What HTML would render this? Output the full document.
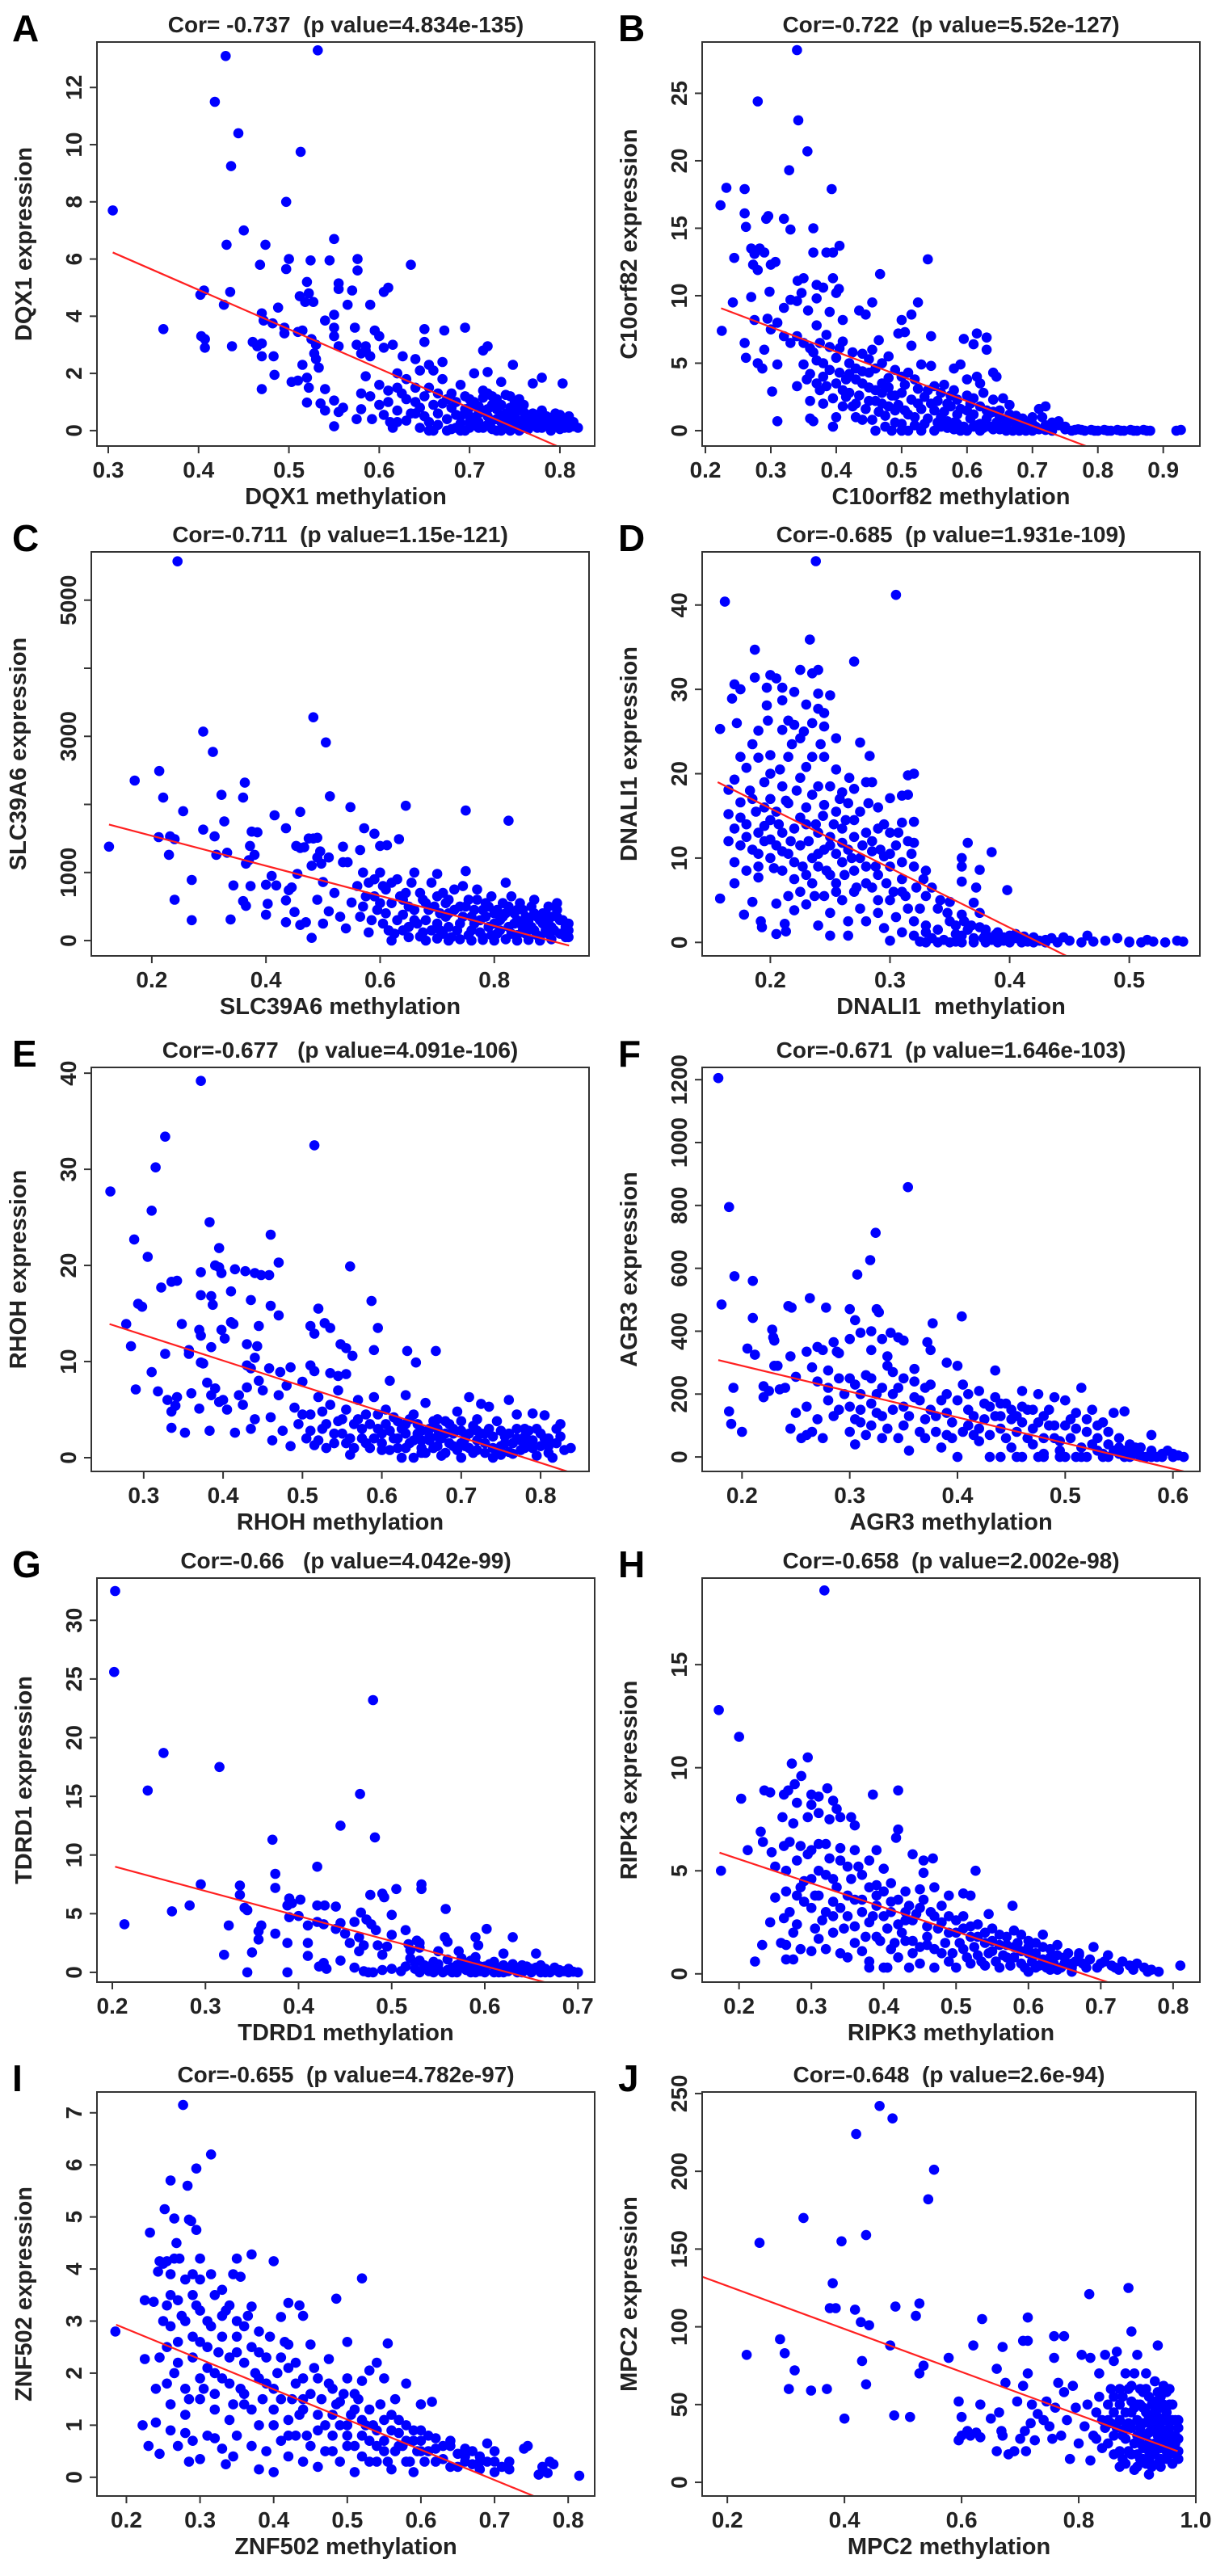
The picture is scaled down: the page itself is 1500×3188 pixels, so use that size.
<!DOCTYPE html>
<html><head><meta charset="utf-8"><title>Methylation vs expression scatter plots</title>
<style>
html,body{margin:0;padding:0;background:#fff;}
svg{display:block;font-family:"Liberation Sans",Arial,sans-serif;font-weight:bold;}
text{white-space:pre;}
</style></head>
<body>
<svg id="fig" xmlns="http://www.w3.org/2000/svg" width="1500" height="3188" viewBox="0 0 1500 3188"></svg>
<script>
// ---------- data ----------
const ptsA=[[0.305,7.7],[0.43,13.1],[0.532,13.3],[0.418,11.5],[0.444,10.4],[0.436,9.25],[0.513,9.75],[0.497,8.0],[0.45,7.0],[0.431,6.5],[0.474,6.5],[0.55,6.7],[0.468,5.8],[0.497,5.65],[0.5,6.0],[0.524,5.95],[0.545,5.95],[0.576,6.0],[0.576,5.6],[0.635,5.8],[0.52,5.2],[0.555,5.15],[0.555,4.95],[0.522,4.8],[0.512,4.7],[0.527,4.5],[0.518,4.5],[0.406,4.9],[0.402,4.75],[0.435,4.85],[0.428,4.4],[0.57,4.9],[0.605,4.85],[0.61,5.0],[0.59,4.4],[0.565,4.4],[0.488,4.3],[0.47,4.1],[0.472,3.85],[0.482,3.75],[0.55,4.05],[0.54,3.85],[0.361,3.55],[0.403,3.3],[0.407,3.2],[0.407,2.9],[0.437,2.95],[0.46,3.1],[0.465,2.95],[0.47,3.05],[0.47,2.6],[0.483,2.6],[0.495,3.6],[0.495,3.4],[0.51,3.45],[0.515,3.5],[0.525,3.2],[0.53,3.0],[0.55,3.6],[0.55,3.3],[0.555,2.95],[0.573,3.6],[0.575,3.0],[0.58,2.7],[0.585,2.8],[0.585,2.95],[0.59,2.6],[0.595,3.5],[0.6,3.3],[0.605,2.9],[0.615,3.0],[0.626,2.6],[0.64,2.5],[0.65,3.55],[0.65,3.1],[0.672,3.5],[0.695,3.6],[0.72,2.95],[0.715,2.8],[0.528,2.7],[0.53,2.5],[0.533,2.2],[0.52,1.85],[0.515,2.3],[0.484,1.95],[0.47,1.45],[0.503,1.7],[0.51,1.75],[0.522,1.5],[0.52,0.98],[0.54,1.45],[0.535,0.95],[0.54,0.7],[0.55,1.05],[0.55,0.15],[0.555,0.65],[0.56,0.8],[0.58,0.75],[0.575,0.4],[0.58,1.3],[0.585,1.9],[0.59,1.2],[0.592,0.4],[0.6,1.6],[0.605,0.55],[0.61,1.0],[0.612,0.3],[0.615,0.1],[0.62,2.0],[0.62,1.5],[0.62,0.7],[0.625,1.3],[0.63,0.35],[0.63,1.8],[0.64,1.0],[0.645,2.1],[0.645,0.1],[0.65,0.5],[0.655,1.5],[0.655,2.3],[0.66,2.1],[0.66,0.9],[0.665,0.2],[0.67,1.8],[0.67,2.4],[0.675,1.1],[0.675,0.4],[0.68,0.8],[0.685,0.1],[0.69,1.6],[0.69,0.5],[0.695,1.2],[0.7,0.3],[0.7,0.8],[0.705,2.0],[0.705,1.0],[0.71,0.1],[0.71,0.6],[0.715,1.4],[0.72,0.2],[0.72,2.05],[0.725,0.9],[0.73,0.4],[0.73,1.1],[0.735,0.0],[0.735,1.7],[0.74,0.6],[0.745,1.2],[0.748,2.3],[0.75,0.2],[0.755,0.8],[0.76,0.4],[0.765,0.05],[0.77,1.65],[0.77,0.6],[0.775,0.3],[0.78,1.85],[0.78,0.1],[0.785,0.5],[0.79,0.2],[0.795,0.6],[0.8,0.3],[0.803,1.65],[0.805,0.1],[0.81,0.3],[0.815,0.15],[0.82,0.1],[0.66,0.0],[0.68,0.05],[0.695,0.0],[0.71,0.3],[0.725,0.05],[0.74,0.1],[0.755,0.0],[0.77,0.2],[0.79,0.0],[0.64,0.6],[0.665,1.3],[0.685,1.0],[0.7,0.1],[0.715,0.7],[0.73,0.75],[0.745,0.35],[0.76,0.9],[0.675,0.0],[0.69,0.25],[0.705,0.45],[0.72,0.5],[0.735,0.3],[0.75,0.55],[0.765,0.35],[0.78,0.4],[0.795,0.15],[0.81,0.5],
[0.655,0.0],[0.665,0.6],[0.67,0.95],[0.68,1.3],[0.685,0.55],[0.69,0.0],[0.695,0.75],[0.7,1.1],[0.7,0.5],[0.705,0.2],[0.71,0.85],[0.715,1.15],[0.715,0.1],[0.72,0.75],[0.72,1.3],[0.725,0.35],[0.725,1.2],[0.73,0.0],[0.735,0.55],[0.735,0.9],[0.74,1.25],[0.74,0.3],[0.745,0.8],[0.745,0.0],[0.75,1.0],[0.75,0.4],[0.755,0.25],[0.755,1.1],[0.76,0.65],[0.76,0.1],[0.765,0.55],[0.77,0.35],[0.775,0.55],[0.775,0.1],[0.78,0.7],[0.785,0.25],[0.79,0.45],[0.795,0.35],[0.8,0.05],[0.8,0.55],[0.805,0.35],[0.81,0.1],[0.815,0.3],[0.6,0.9],[0.61,1.4],[0.62,0.3],[0.63,1.1],[0.635,0.6],[0.64,1.5],[0.645,0.8],[0.65,1.2],[0.655,0.3]];
const lineA=[0.305,6.23,0.82,-0.86];
const ptsB=[[0.34,28.2],[0.28,24.4],[0.342,23.0],[0.356,20.7],[0.328,19.3],[0.393,17.9],[0.223,16.7],[0.232,18.0],[0.26,17.9],[0.26,16.1],[0.262,15.1],[0.293,15.7],[0.296,15.9],[0.32,15.7],[0.33,14.9],[0.365,15.0],[0.244,12.8],[0.27,13.5],[0.275,13.1],[0.283,13.5],[0.29,13.2],[0.273,12.3],[0.28,11.9],[0.3,12.3],[0.307,12.5],[0.365,13.2],[0.385,13.2],[0.395,13.2],[0.405,13.7],[0.54,12.7],[0.467,11.6],[0.341,11.1],[0.35,11.3],[0.395,11.3],[0.27,9.9],[0.242,9.5],[0.298,10.3],[0.37,10.8],[0.38,10.6],[0.4,10.2],[0.404,10.5],[0.347,10.2],[0.33,9.7],[0.34,9.6],[0.37,9.8],[0.225,7.4],[0.26,6.5],[0.262,5.4],[0.28,5.0],[0.287,4.6],[0.29,6.0],[0.295,8.3],[0.275,8.2],[0.32,9.1],[0.3,7.5],[0.31,4.9],[0.302,2.9],[0.31,0.7],[0.34,3.3],[0.35,4.9],[0.355,3.8],[0.357,8.9],[0.36,6.1],[0.36,2.2],[0.36,0.9],[0.365,0.7],[0.37,7.8],[0.37,5.2],[0.375,3.0],[0.38,2.0],[0.385,7.1],[0.39,4.5],[0.39,8.8],[0.395,0.3],[0.4,3.5],[0.4,1.0],[0.405,6.1],[0.41,8.2],[0.415,2.5],[0.42,5.0],[0.425,1.8],[0.43,3.8],[0.435,8.9],[0.44,5.7],[0.44,0.8],[0.445,8.6],[0.45,4.3],[0.45,2.2],[0.455,9.5],[0.455,6.0],[0.46,0.0],[0.465,6.7],[0.47,3.5],[0.475,1.1],[0.48,5.5],[0.485,0.0],[0.49,2.6],[0.495,7.2],[0.5,4.0],[0.5,8.2],[0.505,1.5],[0.505,7.3],[0.51,0.0],[0.515,8.6],[0.515,6.3],[0.52,3.8],[0.525,9.5],[0.525,2.0],[0.53,4.9],[0.535,0.5],[0.54,3.0],[0.545,7.0],[0.545,4.8],[0.55,0.0],[0.555,2.2],[0.56,1.0],[0.565,3.4],[0.57,0.2],[0.575,2.6],[0.58,4.6],[0.585,1.2],[0.59,4.9],[0.595,6.8],[0.6,0.0],[0.6,3.8],[0.605,2.0],[0.61,6.4],[0.615,4.0],[0.615,7.2],[0.62,0.5],[0.625,2.8],[0.63,6.9],[0.63,6.0],[0.635,1.3],[0.64,4.3],[0.645,4.0],[0.65,0.1],[0.655,2.4],[0.66,0.8],[0.665,1.9],[0.67,0.0],[0.675,1.1],[0.68,0.3],[0.685,0.9],[0.69,0.0],[0.7,0.5],[0.71,1.6],[0.715,1.0],[0.72,1.8],[0.725,0.2],[0.73,0.6],[0.74,0.4],[0.75,0.1],[0.76,0.0],[0.77,0.1],[0.78,0.0],[0.79,0.05],[0.8,0.0],[0.81,0.05],[0.82,0.0],[0.83,0.05],[0.84,0.0],[0.85,0.05],[0.86,0.0],[0.87,0.05],[0.88,0.0],[0.92,0.0],[0.927,0.05],[0.58,0.1],[0.59,0.0],[0.62,0.0],[0.64,0.1],[0.66,0.0],[0.68,0.0],[0.7,0.0],[0.72,0.05],[0.73,0.0],[0.55,1.5],[0.57,2.0],[0.58,3.0],[0.6,1.5],[0.61,2.4],[0.62,3.5],[0.63,1.5],[0.64,2.3],[0.65,1.5],[0.48,3.2],[0.49,1.5],[0.47,2.0],[0.46,3.0],[0.44,3.5],[0.43,2.0],[0.42,4.2],[0.41,3.0],[0.38,4.0],[0.37,3.5],[0.35,6.5],[0.34,7.0],[0.33,6.5],[0.32,7.0],[0.31,8.0],[0.53,0.0],[0.52,1.0],[0.5,0.5],[0.56,0.3],[0.585,0.5],[0.61,0.3],
[0.36,4.2],[0.365,5.8],[0.375,6.5],[0.38,5.0],[0.385,3.3],[0.39,6.2],[0.395,2.4],[0.4,5.4],[0.405,4.3],[0.41,1.8],[0.41,6.6],[0.415,3.8],[0.42,2.8],[0.425,5.8],[0.43,4.6],[0.43,1.0],[0.435,2.6],[0.44,4.4],[0.445,1.6],[0.45,3.2],[0.45,5.3],[0.455,0.8],[0.46,2.2],[0.46,4.6],[0.465,1.4],[0.47,2.8],[0.47,5.0],[0.475,0.3],[0.48,1.8],[0.48,3.9],[0.485,2.6],[0.49,0.6],[0.49,4.5],[0.495,1.9],[0.5,2.8],[0.5,0.0],[0.505,3.4],[0.51,1.2],[0.51,4.3],[0.515,2.3],[0.52,0.4],[0.525,3.1],[0.53,1.6],[0.535,2.5],[0.54,0.9],[0.545,2.0],[0.55,3.3],[0.555,0.6],[0.56,2.8],[0.565,1.4],[0.57,0.7],[0.575,1.8],[0.58,0.6],[0.585,2.3],[0.59,1.6],[0.595,0.3],[0.6,2.6],[0.605,0.9],[0.61,1.2],[0.615,0.4],[0.62,1.8],[0.625,0.2],[0.63,0.9],[0.635,0.3],[0.64,1.4],[0.645,0.6],[0.65,1.0],[0.655,0.2],[0.66,0.5],[0.665,1.2],[0.67,0.7],[0.675,0.3],[0.68,0.9],[0.69,0.6],[0.695,0.2],[0.7,1.0],[0.705,0.3],[0.71,0.1],[0.72,0.4],[0.73,0.2],[0.74,0.7],[0.75,0.3],[0.765,0.05],[0.775,0.05],[0.795,0.0],[0.815,0.0],[0.835,0.0],[0.855,0.0],[0.875,0.0]];
const lineB=[0.224,9.07,0.927,-3.8];
const ptsC=[[0.245,5570],[0.483,3280],[0.29,3070],[0.505,2910],[0.307,2770],[0.213,2490],[0.17,2350],[0.363,2320],[0.22,2100],[0.322,2140],[0.36,2100],[0.512,2120],[0.255,1900],[0.46,1890],[0.415,1840],[0.548,1960],[0.645,1980],[0.75,1910],[0.825,1760],[0.327,1750],[0.29,1630],[0.31,1530],[0.435,1650],[0.375,1600],[0.385,1590],[0.212,1520],[0.232,1530],[0.24,1490],[0.572,1650],[0.59,1570],[0.633,1490],[0.475,1500],[0.483,1500],[0.49,1510],[0.372,1390],[0.453,1390],[0.46,1360],[0.467,1370],[0.495,1310],[0.51,1220],[0.535,1380],[0.565,1330],[0.6,1390],[0.612,1400],[0.125,1380],[0.23,1260],[0.313,1260],[0.332,1290],[0.38,1260],[0.365,1130],[0.37,1180],[0.49,1220],[0.497,1130],[0.535,1150],[0.543,1150],[0.48,1100],[0.455,980],[0.41,950],[0.27,890],[0.343,810],[0.373,800],[0.4,820],[0.418,810],[0.44,740],[0.445,780],[0.24,600],[0.27,300],[0.338,310],[0.36,580],[0.365,510],[0.403,540],[0.4,380],[0.435,270],[0.435,590],[0.45,420],[0.46,230],[0.47,270],[0.48,40],[0.49,600],[0.5,860],[0.5,250],[0.51,430],[0.52,700],[0.53,350],[0.54,180],[0.55,560],[0.56,800],[0.565,350],[0.57,1000],[0.575,650],[0.58,120],[0.59,900],[0.595,450],[0.6,1000],[0.605,250],[0.61,750],[0.62,550],[0.625,100],[0.63,900],[0.64,380],[0.645,700],[0.65,200],[0.66,450],[0.66,1000],[0.67,60],[0.675,600],[0.68,300],[0.69,850],[0.695,500],[0.7,980],[0.705,150],[0.71,700],[0.715,350],[0.72,600],[0.725,50],[0.73,450],[0.74,250],[0.745,800],[0.75,1020],[0.755,600],[0.76,150],[0.765,450],[0.77,750],[0.775,300],[0.78,50],[0.785,550],[0.79,200],[0.795,650],[0.8,400],[0.805,100],[0.81,300],[0.815,550],[0.82,850],[0.825,200],[0.83,650],[0.835,400],[0.84,80],[0.845,250],[0.85,450],[0.855,100],[0.86,300],[0.865,500],[0.87,150],[0.875,350],[0.88,50],[0.885,250],[0.89,400],[0.895,100],[0.9,200],[0.91,550],[0.915,300],[0.92,100],[0.925,200],[0.93,50],[0.93,250],[0.62,0],[0.65,50],[0.68,0],[0.7,30],[0.72,0],[0.74,20],[0.76,0],[0.78,10],[0.8,0],[0.82,20],[0.84,0],[0.86,10],[0.88,0],[0.9,20],[0.64,600],[0.66,300],[0.68,550],[0.7,250],[0.72,400],[0.74,500],[0.76,350],[0.78,450],[0.8,250],[0.82,400],[0.84,300],[0.86,200],[0.88,300],[0.9,350],
[0.57,500],[0.58,850],[0.585,300],[0.59,650],[0.6,550],[0.605,800],[0.61,400],[0.615,150],[0.62,850],[0.63,300],[0.635,650],[0.64,150],[0.65,500],[0.655,850],[0.665,250],[0.67,700],[0.675,120],[0.685,450],[0.69,150],[0.7,650],[0.705,400],[0.71,100],[0.715,550],[0.72,200],[0.73,750],[0.735,150],[0.745,350],[0.75,500],[0.755,80],[0.765,250],[0.77,600],[0.775,120],[0.785,350],[0.79,500],[0.795,80],[0.805,450],[0.81,150],[0.815,350],[0.825,500],[0.83,100],[0.835,250],[0.845,550],[0.85,150],[0.855,350],[0.865,200],[0.87,400],[0.875,80],[0.885,400],[0.89,150],[0.895,300],[0.905,150],[0.91,350],[0.915,100],[0.92,300],[0.925,50],[0.93,150],[0.91,450],[0.895,500],[0.87,600],[0.84,450]];
const lineC=[0.125,1704,0.931,-73];
const ptsD=[[0.238,45.2],[0.305,41.2],[0.162,40.4],[0.233,35.9],[0.187,34.7],[0.27,33.3],[0.225,32.3],[0.24,32.3],[0.235,31.9],[0.2,31.7],[0.205,31.3],[0.187,31.4],[0.17,30.6],[0.175,30.0],[0.197,30.2],[0.21,30.2],[0.22,29.7],[0.24,29.5],[0.25,29.3],[0.168,28.9],[0.21,28.7],[0.197,28.1],[0.23,28.2],[0.24,27.7],[0.245,27.2],[0.158,25.3],[0.172,26.0],[0.198,26.3],[0.215,26.3],[0.22,25.8],[0.21,25.2],[0.228,25.0],[0.235,26.0],[0.245,25.6],[0.255,24.2],[0.275,23.7],[0.19,25.1],[0.185,23.5],[0.225,24.2],[0.283,22.1],[0.175,22.0],[0.19,21.9],[0.2,22.2],[0.215,22.0],[0.235,22.0],[0.245,22.0],[0.255,20.5],[0.27,18.2],[0.28,19.0],[0.285,19.0],[0.315,19.8],[0.32,20.0],[0.17,19.3],[0.18,20.7],[0.2,20.0],[0.21,18.5],[0.225,19.5],[0.24,18.5],[0.26,17.8],[0.3,17.1],[0.31,17.4],[0.315,17.5],[0.29,16.0],[0.165,18.1],[0.175,16.6],[0.185,17.0],[0.195,16.0],[0.205,15.5],[0.215,16.5],[0.23,16.0],[0.245,16.3],[0.255,15.5],[0.265,16.5],[0.27,14.5],[0.165,15.2],[0.17,13.5],[0.18,14.0],[0.19,13.0],[0.2,14.5],[0.21,13.0],[0.22,13.5],[0.23,14.0],[0.24,13.0],[0.25,12.5],[0.26,13.5],[0.28,13.0],[0.29,13.5],[0.3,13.0],[0.31,14.2],[0.32,14.3],[0.165,12.0],[0.175,11.5],[0.185,11.0],[0.195,12.0],[0.205,11.5],[0.215,10.5],[0.225,11.5],[0.235,10.0],[0.245,11.0],[0.255,10.5],[0.265,11.0],[0.275,10.0],[0.285,10.8],[0.295,10.2],[0.305,11.5],[0.315,12.0],[0.32,11.8],[0.17,9.5],[0.18,8.5],[0.19,9.0],[0.2,10.0],[0.21,8.5],[0.22,9.5],[0.23,8.0],[0.24,9.0],[0.25,8.0],[0.26,9.5],[0.27,8.5],[0.28,9.0],[0.29,8.0],[0.3,9.0],[0.31,7.5],[0.32,9.0],[0.33,8.5],[0.36,10.0],[0.365,11.8],[0.385,10.7],[0.375,8.6],[0.36,9.0],[0.398,6.2],[0.36,7.2],[0.372,6.5],[0.17,7.0],[0.158,5.2],[0.178,3.3],[0.185,4.8],[0.19,7.7],[0.192,2.5],[0.193,1.8],[0.205,4.6],[0.205,1.0],[0.213,1.3],[0.212,2.2],[0.215,5.5],[0.22,3.8],[0.225,6.0],[0.23,4.5],[0.235,7.0],[0.24,2.0],[0.245,5.5],[0.25,3.5],[0.25,0.8],[0.255,7.0],[0.26,5.0],[0.265,0.8],[0.265,2.5],[0.27,6.0],[0.275,4.0],[0.28,2.5],[0.285,6.5],[0.29,3.5],[0.295,1.7],[0.3,5.0],[0.3,0.2],[0.305,3.0],[0.31,6.0],[0.31,1.2],[0.315,4.0],[0.32,0.8],[0.32,2.5],[0.325,0.1],[0.33,5.5],[0.33,2.0],[0.335,0.5],[0.34,4.0],[0.34,1.5],[0.345,0.3],[0.35,2.5],[0.35,4.8],[0.355,1.0],[0.355,0.1],[0.36,3.3],[0.365,1.5],[0.37,4.7],[0.37,0.5],[0.375,3.5],[0.375,1.8],[0.38,1.0],[0.385,0.3],[0.39,1.2],[0.395,0.6],[0.4,0.2],[0.405,1.0],[0.41,0.4],[0.415,0.1],[0.42,0.6],[0.43,0.3],[0.44,0.0],[0.445,0.6],[0.45,0.2],[0.46,0.0],[0.465,0.8],[0.47,0.1],[0.48,0.2],[0.49,0.5],[0.5,0.1],[0.5,0.0],[0.51,0.0],[0.515,0.3],[0.52,0.1],[0.53,0.0],[0.54,0.2],[0.545,0.1],[0.33,0.0],[0.34,0.0],[0.35,0.0],[0.36,0.0],[0.37,0.0],[0.38,0.0],[0.39,0.0],[0.4,0.0],[0.41,0.0],[0.42,0.0],[0.43,0.0],[0.36,0.8],[0.38,1.5],[0.4,0.8],[0.33,1.2],
[0.175,14.8],[0.18,12.5],[0.183,18.0],[0.188,15.5],[0.19,10.5],[0.195,19.0],[0.195,13.8],[0.2,12.2],[0.2,17.0],[0.203,8.8],[0.207,14.0],[0.208,20.5],[0.21,10.8],[0.213,16.8],[0.217,12.0],[0.218,23.5],[0.22,7.5],[0.222,18.0],[0.225,14.8],[0.227,9.0],[0.23,20.8],[0.232,12.0],[0.235,17.5],[0.237,5.5],[0.238,14.0],[0.24,10.5],[0.242,23.5],[0.244,15.0],[0.247,8.5],[0.25,18.5],[0.25,11.5],[0.253,14.0],[0.255,6.0],[0.258,17.0],[0.26,11.8],[0.262,8.0],[0.263,14.5],[0.266,19.5],[0.268,10.0],[0.27,12.5],[0.272,6.5],[0.275,15.5],[0.277,11.5],[0.28,7.0],[0.282,16.5],[0.285,12.0],[0.288,9.0],[0.29,5.0],[0.292,11.0],[0.295,14.0],[0.297,7.0],[0.3,10.5],[0.303,6.0],[0.307,13.0],[0.31,9.5],[0.313,5.5],[0.318,10.5],[0.322,6.5],[0.325,4.0],[0.328,7.5],[0.335,6.5],[0.342,5.0],[0.348,3.5],[0.355,2.0],[0.362,2.5],[0.368,2.0],[0.378,0.5],[0.388,0.9],[0.395,0.2],[0.405,0.5],[0.412,0.7],[0.425,0.2],[0.435,0.5]];
const lineD=[0.156,19.0,0.545,-8.5];
const ptsE=[[0.372,39.2],[0.327,33.4],[0.515,32.5],[0.315,30.2],[0.258,27.7],[0.31,25.7],[0.383,24.5],[0.46,23.2],[0.288,22.7],[0.395,21.8],[0.305,20.9],[0.47,20.3],[0.372,19.3],[0.39,20.0],[0.395,19.8],[0.398,19.2],[0.415,19.6],[0.428,19.4],[0.44,19.2],[0.448,19.0],[0.458,19.0],[0.56,19.9],[0.322,17.7],[0.335,18.3],[0.342,18.4],[0.372,16.9],[0.385,16.8],[0.387,15.9],[0.41,17.3],[0.435,16.4],[0.46,15.8],[0.587,16.3],[0.293,16.0],[0.298,15.7],[0.47,14.8],[0.52,15.5],[0.41,14.1],[0.413,13.9],[0.445,13.7],[0.51,13.7],[0.515,12.9],[0.528,14.0],[0.535,13.5],[0.595,13.5],[0.278,13.9],[0.348,13.9],[0.37,13.3],[0.372,12.7],[0.398,13.3],[0.402,12.4],[0.43,11.8],[0.443,11.6],[0.548,11.8],[0.555,11.4],[0.59,11.2],[0.632,11.1],[0.668,11.1],[0.643,9.9],[0.563,10.6],[0.284,11.6],[0.327,10.8],[0.357,11.2],[0.357,10.8],[0.385,11.5],[0.372,9.9],[0.375,9.8],[0.44,10.4],[0.43,9.6],[0.435,9.3],[0.458,9.3],[0.472,8.9],[0.485,9.4],[0.51,9.6],[0.515,9.0],[0.535,8.8],[0.545,8.5],[0.555,8.7],[0.31,8.9],[0.29,7.1],[0.318,6.9],[0.33,6.0],[0.335,4.8],[0.342,6.3],[0.34,5.4],[0.335,3.1],[0.352,2.6],[0.36,6.7],[0.37,5.1],[0.383,2.8],[0.38,7.8],[0.385,6.5],[0.39,7.2],[0.395,5.8],[0.4,6.0],[0.405,5.0],[0.415,2.6],[0.42,6.5],[0.425,5.5],[0.43,7.3],[0.435,3.0],[0.44,4.0],[0.445,8.0],[0.45,7.0],[0.46,4.2],[0.462,1.8],[0.47,6.5],[0.475,2.8],[0.48,7.5],[0.485,1.2],[0.49,5.2],[0.495,3.5],[0.5,7.9],[0.505,2.0],[0.51,4.5],[0.515,1.3],[0.52,6.3],[0.525,3.0],[0.53,1.0],[0.535,5.5],[0.54,2.5],[0.545,7.0],[0.55,4.0],[0.555,1.5],[0.56,0.3],[0.565,3.5],[0.57,6.0],[0.575,2.0],[0.58,4.5],[0.585,1.0],[0.59,6.3],[0.595,3.0],[0.6,0.8],[0.605,5.0],[0.61,8.0],[0.615,2.0],[0.62,3.8],[0.625,0.0],[0.63,6.5],[0.635,1.5],[0.64,4.5],[0.645,2.5],[0.65,0.5],[0.655,5.7],[0.66,3.0],[0.665,1.0],[0.67,4.0],[0.675,0.2],[0.68,2.5],[0.685,3.5],[0.69,1.2],[0.695,4.8],[0.7,0.0],[0.705,2.0],[0.71,6.3],[0.715,3.3],[0.72,0.8],[0.725,5.6],[0.73,2.5],[0.735,5.3],[0.74,1.0],[0.745,3.8],[0.75,0.3],[0.755,2.2],[0.76,6.0],[0.765,1.5],[0.77,4.5],[0.775,0.8],[0.78,3.0],[0.785,1.8],[0.79,4.6],[0.795,0.2],[0.8,2.5],[0.805,4.4],[0.81,1.2],[0.815,0.0],[0.82,3.0],[0.825,3.5],[0.83,0.8],[0.838,1.0],[0.6,2.5],[0.62,1.0],[0.64,0.0],[0.66,1.8],[0.68,0.5],[0.7,1.5],[0.72,2.8],[0.74,0.0],[0.76,0.6],[0.78,2.2],[0.63,3.5],[0.65,1.8],[0.67,2.2],[0.69,3.0],[0.71,1.0],[0.73,0.5],[0.75,1.2],[0.77,2.0],[0.79,1.0],[0.81,2.0],
[0.5,4.5],[0.51,2.8],[0.52,1.8],[0.525,4.8],[0.53,3.5],[0.54,1.5],[0.545,3.8],[0.55,2.5],[0.555,5.0],[0.56,2.0],[0.565,1.0],[0.57,4.0],[0.575,3.0],[0.58,1.5],[0.585,3.5],[0.59,2.0],[0.595,4.5],[0.6,1.5],[0.605,3.5],[0.61,0.8],[0.61,2.8],[0.615,4.2],[0.62,2.0],[0.625,3.0],[0.63,1.0],[0.63,2.5],[0.635,4.0],[0.64,1.8],[0.645,3.5],[0.65,1.0],[0.65,2.8],[0.655,0.5],[0.66,2.2],[0.665,3.8],[0.67,1.2],[0.67,3.0],[0.675,2.0],[0.68,3.8],[0.685,1.5],[0.69,2.5],[0.695,0.8],[0.7,2.8],[0.7,3.8],[0.705,1.2],[0.71,2.5],[0.715,0.5],[0.72,1.8],[0.72,4.0],[0.725,2.5],[0.73,1.5],[0.735,3.0],[0.74,2.2],[0.745,0.8],[0.75,2.8],[0.755,1.5],[0.76,2.5],[0.765,0.4],[0.77,3.0],[0.775,1.8],[0.78,1.0],[0.785,2.8],[0.79,1.8],[0.795,3.0],[0.8,1.2],[0.805,2.0],[0.81,0.5],[0.82,1.5],[0.825,2.2]];
const lineE=[0.257,13.9,0.838,-1.55];
const ptsF=[[0.178,1205],[0.354,858],[0.188,795],[0.324,713],[0.319,626],[0.193,575],[0.307,580],[0.21,560],[0.181,485],[0.263,505],[0.278,475],[0.243,480],[0.246,475],[0.3,470],[0.325,470],[0.327,460],[0.404,447],[0.21,442],[0.305,435],[0.377,425],[0.228,405],[0.229,380],[0.23,370],[0.32,400],[0.31,395],[0.338,395],[0.345,380],[0.35,370],[0.33,375],[0.285,365],[0.3,375],[0.372,365],[0.205,345],[0.212,325],[0.26,335],[0.27,350],[0.275,340],[0.288,335],[0.29,330],[0.245,320],[0.375,340],[0.32,340],[0.335,320],[0.23,290],[0.233,290],[0.39,300],[0.4,290],[0.435,275],[0.265,285],[0.28,275],[0.25,255],[0.192,220],[0.22,225],[0.225,210],[0.235,215],[0.24,220],[0.22,190],[0.25,140],[0.245,90],[0.188,145],[0.19,105],[0.2,80],[0.255,60],[0.26,70],[0.265,80],[0.27,240],[0.275,60],[0.28,180],[0.285,130],[0.29,250],[0.295,200],[0.3,80],[0.305,40],[0.305,230],[0.31,150],[0.315,260],[0.32,100],[0.325,200],[0.33,60],[0.335,290],[0.34,150],[0.345,220],[0.35,100],[0.355,20],[0.36,280],[0.365,180],[0.37,60],[0.375,230],[0.38,130],[0.385,30],[0.39,200],[0.395,110],[0.4,0],[0.405,230],[0.41,150],[0.415,70],[0.42,210],[0.425,120],[0.43,0],[0.435,190],[0.44,90],[0.445,170],[0.45,30],[0.455,130],[0.46,210],[0.465,60],[0.47,150],[0.475,200],[0.48,10],[0.485,100],[0.49,190],[0.495,50],[0.5,180],[0.505,120],[0.51,0],[0.515,220],[0.52,80],[0.525,150],[0.53,20],[0.535,110],[0.54,40],[0.545,140],[0.55,10],[0.555,145],[0.56,40],[0.565,10],[0.57,30],[0.575,0],[0.58,70],[0.585,0],[0.59,10],[0.595,20],[0.6,0],[0.605,5],[0.61,0],[0.44,0],[0.46,0],[0.48,0],[0.5,0],[0.52,0],[0.54,0],[0.56,0],[0.58,0],[0.6,10],[0.43,160],[0.45,120],[0.47,90],[0.49,60],[0.51,90],[0.53,60],[0.55,30],[0.41,100],[0.39,70],[0.37,120],[0.35,160],[0.33,130],[0.31,110],[0.29,150],[0.27,120],[0.36,240],[0.34,270],[0.32,170],[0.3,160],[0.28,220],[0.26,160],[0.42,50],[0.44,130],[0.46,160],[0.48,130],
[0.3,250],[0.305,120],[0.31,200],[0.315,70],[0.32,250],[0.325,140],[0.33,220],[0.335,90],[0.34,200],[0.345,60],[0.35,250],[0.355,130],[0.36,190],[0.365,80],[0.37,220],[0.375,150],[0.38,80],[0.385,180],[0.39,140],[0.395,60],[0.4,180],[0.405,80],[0.41,200],[0.415,130],[0.42,90],[0.425,170],[0.43,70],[0.435,130],[0.44,170],[0.445,60],[0.45,150],[0.455,80],[0.46,110],[0.465,150],[0.47,40],[0.475,110],[0.48,60],[0.485,150],[0.49,100],[0.495,20],[0.5,100],[0.505,60],[0.51,140],[0.515,30],[0.52,120],[0.525,40],[0.53,100],[0.535,10],[0.54,80],[0.545,20],[0.55,60],[0.555,20],[0.56,10],[0.565,30],[0.57,5],[0.58,20],[0.59,0],[0.6,5],[0.455,0],[0.475,0],[0.495,0],[0.515,0],[0.535,0],[0.555,0],[0.57,0]];
const lineF=[0.178,308,0.61,-46];
const ptsG=[[0.203,32.5],[0.202,25.6],[0.48,23.2],[0.255,18.7],[0.315,17.5],[0.238,15.5],[0.466,15.2],[0.445,12.5],[0.482,11.5],[0.372,11.3],[0.42,9.0],[0.375,8.4],[0.295,7.5],[0.337,7.4],[0.375,7.2],[0.532,7.5],[0.532,7.1],[0.505,7.1],[0.477,6.6],[0.49,6.7],[0.492,6.4],[0.337,6.6],[0.39,6.3],[0.393,5.9],[0.388,5.7],[0.402,6.2],[0.42,5.7],[0.428,5.7],[0.44,5.6],[0.283,5.7],[0.264,5.2],[0.342,5.5],[0.345,5.3],[0.558,5.4],[0.467,5.1],[0.5,4.9],[0.213,4.1],[0.39,4.7],[0.4,4.8],[0.325,4.0],[0.36,4.0],[0.357,3.5],[0.357,2.8],[0.375,3.3],[0.388,2.5],[0.41,4.0],[0.42,4.3],[0.427,4.1],[0.44,3.7],[0.445,4.2],[0.45,3.3],[0.455,2.5],[0.46,4.3],[0.465,3.0],[0.47,2.3],[0.473,4.5],[0.478,4.1],[0.483,3.6],[0.485,2.3],[0.49,1.5],[0.495,2.2],[0.5,3.2],[0.515,3.6],[0.518,2.4],[0.52,1.9],[0.527,2.7],[0.53,2.1],[0.53,1.0],[0.557,3.0],[0.56,2.6],[0.59,3.0],[0.593,2.3],[0.602,3.7],[0.63,3.0],[0.572,1.8],[0.62,1.6],[0.655,1.6],[0.32,1.5],[0.35,1.7],[0.41,1.4],[0.41,2.5],[0.345,0.0],[0.388,0.0],[0.422,0.5],[0.427,0.8],[0.43,0.3],[0.445,1.0],[0.46,0.4],[0.465,1.8],[0.47,0.1],[0.475,0.0],[0.48,0.0],[0.49,0.2],[0.5,0.3],[0.51,0.1],[0.515,0.5],[0.52,1.2],[0.525,0.3],[0.53,0.0],[0.535,0.6],[0.54,0.1],[0.545,0.9],[0.55,0.3],[0.555,0.0],[0.56,1.1],[0.565,0.4],[0.57,0.0],[0.575,0.8],[0.58,0.2],[0.585,1.0],[0.59,0.0],[0.595,0.5],[0.6,0.1],[0.605,0.7],[0.61,0.0],[0.615,0.3],[0.62,0.6],[0.625,0.1],[0.63,0.4],[0.635,0.0],[0.64,0.6],[0.645,0.2],[0.65,0.0],[0.655,0.4],[0.66,0.1],[0.665,0.3],[0.67,0.0],[0.675,0.2],[0.68,0.0],[0.685,0.1],[0.69,0.0],[0.695,0.05],[0.7,0.0],[0.545,0.0],[0.565,0.0],[0.585,0.0],[0.6,0.0],[0.62,0.0],[0.64,0.0],[0.66,0.0],[0.55,1.8],[0.57,0.6],[0.59,1.3],[0.61,0.5],[0.53,2.5],
[0.525,0.8],[0.54,0.5],[0.55,0.7],[0.56,0.2],[0.57,0.4],[0.575,1.2],[0.58,0.6],[0.585,0.3],[0.59,0.8],[0.595,0.1],[0.6,0.5],[0.61,0.9],[0.615,0.0],[0.62,0.3],[0.63,0.7],[0.635,0.2],[0.645,0.5],[0.65,0.3],[0.66,0.6],[0.665,0.0],[0.675,0.4],[0.68,0.2],[0.69,0.3]];
const lineG=[0.203,9.0,0.7,-1.6];
const ptsH=[[0.318,18.6],[0.172,12.8],[0.2,11.5],[0.295,10.5],[0.273,10.2],[0.286,9.6],[0.277,9.2],[0.322,9.0],[0.235,8.9],[0.243,8.8],[0.262,8.7],[0.268,8.9],[0.3,8.7],[0.31,8.6],[0.385,8.7],[0.42,8.9],[0.203,8.5],[0.28,8.3],[0.3,8.2],[0.33,8.4],[0.335,8.0],[0.31,7.8],[0.34,7.6],[0.26,7.6],[0.295,7.6],[0.275,7.3],[0.325,7.5],[0.355,7.6],[0.36,7.2],[0.23,6.9],[0.262,6.2],[0.233,6.4],[0.212,6.0],[0.175,5.0],[0.245,5.9],[0.42,7.0],[0.417,6.6],[0.39,6.0],[0.44,5.8],[0.455,5.5],[0.468,5.6],[0.455,4.9],[0.527,5.0],[0.27,6.4],[0.285,6.2],[0.3,6.0],[0.32,6.3],[0.34,6.1],[0.36,6.0],[0.38,5.5],[0.4,5.1],[0.25,5.2],[0.265,5.0],[0.28,5.5],[0.29,4.5],[0.31,5.0],[0.33,4.6],[0.35,5.2],[0.37,4.8],[0.39,4.3],[0.41,4.4],[0.43,4.0],[0.45,4.1],[0.47,4.2],[0.49,3.8],[0.51,3.9],[0.52,3.8],[0.578,3.3],[0.545,2.9],[0.25,3.7],[0.265,4.0],[0.28,3.8],[0.29,3.5],[0.3,3.2],[0.31,3.8],[0.32,3.0],[0.33,3.5],[0.34,3.2],[0.35,2.8],[0.36,3.6],[0.37,3.0],[0.38,2.5],[0.39,3.3],[0.4,2.8],[0.41,3.5],[0.42,2.4],[0.43,3.0],[0.44,2.6],[0.45,3.2],[0.46,2.3],[0.47,2.8],[0.48,2.5],[0.49,2.0],[0.5,2.6],[0.51,2.2],[0.52,1.8],[0.53,2.4],[0.54,2.0],[0.55,1.6],[0.56,1.9],[0.57,1.4],[0.58,2.1],[0.6,1.6],[0.62,1.9],[0.243,2.5],[0.258,1.5],[0.262,2.7],[0.265,1.4],[0.27,3.0],[0.275,2.0],[0.28,2.4],[0.285,1.2],[0.232,1.4],[0.222,0.6],[0.265,0.7],[0.275,0.7],[0.3,1.1],[0.305,2.2],[0.31,1.7],[0.32,1.2],[0.33,2.0],[0.34,1.0],[0.35,0.8],[0.36,1.5],[0.37,1.1],[0.38,0.3],[0.38,0.6],[0.39,1.8],[0.4,0.3],[0.405,0.3],[0.41,1.2],[0.42,0.8],[0.43,1.6],[0.435,0.3],[0.44,1.0],[0.45,0.5],[0.46,1.4],[0.47,0.3],[0.48,1.0],[0.49,0.6],[0.5,0.3],[0.51,1.2],[0.52,0.5],[0.53,0.9],[0.54,0.4],[0.55,1.1],[0.56,0.3],[0.57,0.8],[0.58,1.3],[0.59,0.5],[0.6,1.0],[0.61,0.3],[0.62,0.7],[0.63,1.2],[0.64,0.2],[0.65,0.8],[0.66,0.5],[0.67,0.9],[0.68,0.3],[0.69,1.3],[0.7,0.5],[0.71,0.9],[0.72,0.3],[0.73,0.6],[0.74,0.4],[0.75,0.5],[0.76,0.3],[0.77,0.2],[0.78,0.1],[0.81,0.4],[0.6,0.1],[0.63,0.2],[0.66,0.1],[0.59,1.9],[0.61,1.5],[0.64,1.4],[0.67,1.0],
[0.285,4.2],[0.295,5.8],[0.3,4.6],[0.305,3.8],[0.31,6.3],[0.315,2.6],[0.32,4.8],[0.325,5.6],[0.33,2.8],[0.335,4.2],[0.34,5.5],[0.345,2.2],[0.35,3.8],[0.355,4.6],[0.36,2.3],[0.365,5.2],[0.37,3.6],[0.375,1.8],[0.38,4.2],[0.385,2.8],[0.39,3.8],[0.395,1.6],[0.4,4.0],[0.405,2.2],[0.41,3.0],[0.415,1.5],[0.42,3.6],[0.425,2.0],[0.43,2.6],[0.435,3.3],[0.44,1.6],[0.445,2.9],[0.45,1.3],[0.455,3.6],[0.46,1.8],[0.465,3.0],[0.47,1.2],[0.475,2.2],[0.48,3.3],[0.485,1.5],[0.49,2.8],[0.495,1.0],[0.5,2.0],[0.505,1.5],[0.51,2.8],[0.515,0.8],[0.52,2.3],[0.525,1.3],[0.53,1.8],[0.535,0.6],[0.54,1.5],[0.545,1.0],[0.55,2.2],[0.555,0.6],[0.56,1.4],[0.565,0.9],[0.57,1.8],[0.575,0.4],[0.58,0.8],[0.585,1.5],[0.59,1.1],[0.595,0.3],[0.6,1.3],[0.605,0.6],[0.61,1.0],[0.615,0.4],[0.62,1.3],[0.625,0.3],[0.63,0.8],[0.635,0.5],[0.64,0.9],[0.645,0.3],[0.65,0.5],[0.655,1.0],[0.66,0.3],[0.665,0.6],[0.675,0.5],[0.685,0.7],[0.695,0.3],[0.705,0.6],[0.715,0.4],[0.725,0.2],[0.745,0.2],[0.765,0.1]];
const lineH=[0.173,5.88,0.81,-1.58];
const ptsI=[[0.277,7.15],[0.315,6.2],[0.295,5.93],[0.26,5.7],[0.283,5.6],[0.252,5.15],[0.265,4.97],[0.285,4.95],[0.288,4.92],[0.295,4.75],[0.232,4.7],[0.268,4.5],[0.37,4.28],[0.4,4.15],[0.35,4.2],[0.245,4.15],[0.25,4.1],[0.255,4.15],[0.265,4.2],[0.272,4.2],[0.3,4.2],[0.243,3.95],[0.26,3.9],[0.28,3.8],[0.29,3.9],[0.3,3.8],[0.315,3.9],[0.345,3.9],[0.355,3.85],[0.52,3.82],[0.485,3.43],[0.42,3.35],[0.435,3.3],[0.225,3.4],[0.237,3.37],[0.26,3.5],[0.27,3.4],[0.255,3.3],[0.29,3.5],[0.32,3.5],[0.33,3.6],[0.34,3.3],[0.37,3.28],[0.44,3.1],[0.41,3.08],[0.25,3.0],[0.26,2.9],[0.28,3.0],[0.3,3.2],[0.31,3.0],[0.33,3.1],[0.35,3.0],[0.36,2.9],[0.38,2.8],[0.185,2.8],[0.225,2.27],[0.245,2.3],[0.255,2.5],[0.27,2.6],[0.29,2.7],[0.31,2.5],[0.33,2.7],[0.35,2.4],[0.37,2.5],[0.39,2.3],[0.41,2.3],[0.42,2.55],[0.45,2.55],[0.475,2.27],[0.5,2.6],[0.555,2.57],[0.54,2.2],[0.53,2.05],[0.255,1.8],[0.265,2.0],[0.28,1.7],[0.3,1.9],[0.32,2.0],[0.34,1.8],[0.36,1.6],[0.38,1.9],[0.4,1.7],[0.42,2.1],[0.43,1.8],[0.44,1.5],[0.46,1.9],[0.48,1.7],[0.5,1.9],[0.51,1.6],[0.52,1.85],[0.55,1.9],[0.565,1.5],[0.58,1.8],[0.24,1.7],[0.26,1.4],[0.28,1.2],[0.3,1.5],[0.32,1.3],[0.34,1.1],[0.36,1.4],[0.38,1.0],[0.4,1.3],[0.42,1.1],[0.44,1.3],[0.46,0.9],[0.48,1.2],[0.5,1.0],[0.52,1.1],[0.54,0.9],[0.56,1.2],[0.58,1.0],[0.6,1.4],[0.615,1.45],[0.222,1.0],[0.24,1.05],[0.26,0.9],[0.27,0.6],[0.28,0.85],[0.285,0.3],[0.29,0.7],[0.3,0.35],[0.31,0.8],[0.23,0.6],[0.245,0.45],[0.32,0.75],[0.33,0.55],[0.335,0.25],[0.345,0.4],[0.35,0.8],[0.37,0.6],[0.38,0.15],[0.39,0.5],[0.4,0.1],[0.41,0.7],[0.42,0.4],[0.43,0.8],[0.44,0.3],[0.45,0.6],[0.46,0.2],[0.47,0.5],[0.48,0.8],[0.49,0.3],[0.5,0.6],[0.51,0.1],[0.52,0.4],[0.53,0.7],[0.54,0.3],[0.55,0.5],[0.56,0.15],[0.57,0.6],[0.58,0.3],[0.59,0.1],[0.6,0.5],[0.61,0.8],[0.62,0.3],[0.63,0.6],[0.64,0.2],[0.65,0.45],[0.66,0.55],[0.67,0.25],[0.68,0.4],[0.69,0.65],[0.7,0.3],[0.71,0.2],[0.72,0.3],[0.74,0.55],[0.745,0.6],[0.76,0.05],[0.765,0.2],[0.772,0.08],[0.775,0.3],[0.78,0.25],[0.815,0.03],[0.6,0.9],[0.62,0.75],[0.64,0.6],[0.66,0.4],[0.68,0.3],[0.7,0.1],[0.55,1.1],[0.57,0.85],[0.59,0.7],[0.53,1.3],[0.51,1.3],[0.49,1.45],
[0.27,2.2],[0.275,3.1],[0.285,1.5],[0.29,2.3],[0.295,3.3],[0.3,2.6],[0.305,1.7],[0.31,2.1],[0.315,2.9],[0.32,1.6],[0.325,2.4],[0.33,1.9],[0.335,3.2],[0.34,2.3],[0.345,1.4],[0.35,2.7],[0.355,1.7],[0.36,2.2],[0.365,3.1],[0.37,1.3],[0.375,2.0],[0.38,2.4],[0.385,1.5],[0.39,1.8],[0.395,2.7],[0.4,1.0],[0.405,2.0],[0.41,1.5],[0.415,2.6],[0.42,0.8],[0.425,1.5],[0.43,2.2],[0.435,1.2],[0.44,1.9],[0.445,0.8],[0.45,1.6],[0.455,2.1],[0.46,1.2],[0.465,1.5],[0.47,1.0],[0.475,1.8],[0.48,0.5],[0.485,1.4],[0.49,1.0],[0.495,1.6],[0.5,0.8],[0.505,1.2],[0.51,0.6],[0.515,1.5],[0.52,0.8],[0.525,1.0],[0.53,0.3],[0.535,1.0],[0.54,0.6],[0.545,1.4],[0.55,0.7],[0.555,0.3],[0.56,0.9],[0.565,0.5],[0.57,1.1],[0.575,0.6],[0.58,0.7],[0.585,0.3],[0.59,0.9],[0.595,0.5],[0.6,0.7],[0.605,0.3],[0.61,0.5],[0.62,0.55],[0.63,0.35],[0.64,0.7],[0.65,0.2],[0.66,0.3],[0.67,0.5],[0.68,0.15],[0.69,0.3],[0.7,0.5],[0.72,0.15]];
const lineI=[0.186,2.93,0.815,-0.72];
const ptsJ=[[0.46,242],[0.482,234],[0.42,224],[0.553,201],[0.543,182],[0.33,170],[0.437,159],[0.395,155],[0.255,154],[0.147,149],[0.38,128],[0.885,125],[0.818,121],[0.375,112],[0.385,112],[0.418,111],[0.487,113],[0.528,115],[0.522,107],[0.713,106],[0.635,105],[0.428,103],[0.442,101],[0.29,92],[0.298,83],[0.233,82],[0.478,88],[0.62,88],[0.67,87],[0.705,91],[0.713,91],[0.758,94],[0.775,94],[0.89,97],[0.935,88],[0.578,80],[0.43,78],[0.315,72],[0.535,75],[0.528,70],[0.66,73],[0.305,60],[0.343,59],[0.37,60],[0.437,63],[0.4,41],[0.485,43],[0.512,42],[0.595,52],[0.6,42],[0.6,30],[0.595,27],[0.61,33],[0.615,30],[0.625,32],[0.632,50],[0.632,29],[0.65,41],[0.66,20],[0.664,45],[0.668,33],[0.67,30],[0.68,18],[0.675,64],[0.69,20],[0.695,52],[0.7,28],[0.705,62],[0.708,33],[0.71,20],[0.713,70],[0.718,38],[0.72,50],[0.725,27],[0.73,44],[0.74,40],[0.745,52],[0.75,36],[0.755,28],[0.758,80],[0.76,48],[0.765,64],[0.77,30],[0.775,58],[0.78,40],[0.785,15],[0.79,62],[0.795,48],[0.8,25],[0.805,82],[0.81,36],[0.815,50],[0.82,80],[0.82,14],[0.825,30],[0.83,45],[0.835,70],[0.84,22],[0.845,82],[0.85,50],[0.855,38],[0.86,78],[0.86,18],[0.865,84],[0.87,60],[0.87,10],[0.875,30],[0.88,45],[0.88,70],[0.885,20],[0.89,52],[0.89,35],[0.895,8],[0.9,82],[0.9,40],[0.905,60],[0.905,25],[0.91,15],[0.91,48],[0.915,30],[0.915,70],[0.92,5],[0.92,55],[0.925,38],[0.925,20],[0.93,65],[0.93,45],[0.935,12],[0.935,30],[0.94,55],[0.94,22],[0.945,40],[0.945,62],[0.95,15],[0.95,33],[0.955,50],[0.955,25],[0.96,40],[0.96,12],[0.965,30],[0.965,18],[0.97,28],[0.97,20],[0.87,40],[0.88,28],[0.89,45],[0.9,30],[0.91,38],[0.92,42],[0.93,25],[0.94,35],[0.95,45],[0.96,22],[0.86,30],[0.85,25],[0.84,40],[0.87,50],[0.9,50],[0.92,32],[0.94,48],[0.95,20],[0.91,22],[0.89,18],[0.88,12],[0.9,10],[0.92,14],[0.94,10],[0.96,28],[0.93,52],[0.91,58],[0.89,62],[0.87,20],[0.86,45],[0.95,58],[0.97,35],
[0.865,35],[0.875,55],[0.875,15],[0.885,38],[0.885,60],[0.895,25],[0.895,48],[0.895,70],[0.905,15],[0.905,35],[0.905,50],[0.91,30],[0.915,12],[0.915,45],[0.915,60],[0.92,25],[0.92,38],[0.925,50],[0.925,10],[0.93,35],[0.93,18],[0.935,42],[0.935,58],[0.94,28],[0.94,15],[0.945,30],[0.945,50],[0.95,25],[0.95,40],[0.955,18],[0.955,35],[0.955,60],[0.96,30],[0.96,50],[0.965,40],[0.965,25],[0.97,15],[0.97,40],[0.85,40],[0.855,60],[0.86,55],[0.88,35],[0.9,18],[0.92,20],[0.94,40],[0.83,28],[0.835,55],[0.845,35]];
const lineJ=[0.144,134,0.969,20];

// tick values
const xTicksA=[0.3,0.4,0.5,0.6,0.7,0.8], yTicksA=[0,2,4,6,8,10,12];
const xTicksB=[0.2,0.3,0.4,0.5,0.6,0.7,0.8,0.9], yTicksB=[0,5,10,15,20,25];
const xTicksC=[0.2,0.4,0.6,0.8], yTicksC=[0,1000,2000,3000,4000,5000], yLabelsC=["0","1000","","3000","","5000"];
const xTicksD=[0.2,0.3,0.4,0.5], yTicksD=[0,10,20,30,40];
const xTicksE=[0.3,0.4,0.5,0.6,0.7,0.8], yTicksE=[0,10,20,30,40];
const xTicksF=[0.2,0.3,0.4,0.5,0.6], yTicksF=[0,200,400,600,800,1000,1200];
const xTicksG=[0.2,0.3,0.4,0.5,0.6,0.7], yTicksG=[0,5,10,15,20,25,30];
const xTicksH=[0.2,0.3,0.4,0.5,0.6,0.7,0.8], yTicksH=[0,5,10,15];
const xTicksI=[0.2,0.3,0.4,0.5,0.6,0.7,0.8], yTicksI=[0,1,2,3,4,5,6,7];
const xTicksJ=[0.2,0.4,0.6,0.8,1.0], yTicksJ=[0,50,100,150,200,250];

// ---------- layout / drawing ----------
const NS="http://www.w3.org/2000/svg";
const svg=document.getElementById('fig');
function mk(tag,attrs,parent){const e=document.createElementNS(NS,tag);for(const k in attrs)e.setAttribute(k,attrs[k]);(parent||svg).appendChild(e);return e;}

const panels=[
 {id:'a',letter:'A',left:120,top:52,w:616,xd:[0.2875,0.8385],yd:[-0.54,13.59],pts:ptsA,line:lineA,xt:xTicksA,yt:yTicksA,title:'Cor= -0.737  (p value=4.834e-135)',xl:'DQX1 methylation',yl:'DQX1 expression'},
 {id:'b',letter:'B',left:869,top:52,w:616,xd:[0.195,0.956],yd:[-1.14,28.8],pts:ptsB,line:lineB,xt:xTicksB,yt:yTicksB,title:'Cor=-0.722  (p value=5.52e-127)',xl:'C10orf82 methylation',yl:'C10orf82 expression'},
 {id:'c',letter:'C',left:113,top:683,w:616,xd:[0.094,0.966],yd:[-225,5709],pts:ptsC,line:lineC,xt:xTicksC,yt:yTicksC,ylab:yLabelsC,title:'Cor=-0.711  (p value=1.15e-121)',xl:'SLC39A6 methylation',yl:'SLC39A6 expression'},
 {id:'d',letter:'D',left:869,top:683,w:616,xd:[0.143,0.559],yd:[-1.6,46.3],pts:ptsD,line:lineD,xt:xTicksD,yt:yTicksD,title:'Cor=-0.685  (p value=1.931e-109)',xl:'DNALI1  methylation',yl:'DNALI1 expression'},
 {id:'e',letter:'E',left:113,top:1321,w:616,xd:[0.234,0.861],yd:[-1.43,40.6],pts:ptsE,line:lineE,xt:xTicksE,yt:yTicksE,title:'Cor=-0.677   (p value=4.091e-106)',xl:'RHOH methylation',yl:'RHOH expression'},
 {id:'f',letter:'F',left:869,top:1321,w:616,xd:[0.163,0.625],yd:[-46,1239],pts:ptsF,line:lineF,xt:xTicksF,yt:yTicksF,title:'Cor=-0.671  (p value=1.646e-103)',xl:'AGR3 methylation',yl:'AGR3 expression'},
 {id:'g',letter:'G',left:120,top:1953,w:616,xd:[0.1835,0.718],yd:[-0.83,33.6],pts:ptsG,line:lineG,xt:xTicksG,yt:yTicksG,title:'Cor=-0.66   (p value=4.042e-99)',xl:'TDRD1 methylation',yl:'TDRD1 expression'},
 {id:'h',letter:'H',left:869,top:1953,w:616,xd:[0.149,0.837],yd:[-0.4,19.2],pts:ptsH,line:lineH,xt:xTicksH,yt:yTicksH,title:'Cor=-0.658  (p value=2.002e-98)',xl:'RIPK3 methylation',yl:'RIPK3 expression'},
 {id:'i',letter:'I',left:120,top:2589,w:616,xd:[0.160,0.836],yd:[-0.36,7.4],pts:ptsI,line:lineI,xt:xTicksI,yt:yTicksI,title:'Cor=-0.655  (p value=4.782e-97)',xl:'ZNF502 methylation',yl:'ZNF502 expression'},
 {id:'j',letter:'J',left:869,top:2589,w:611,xd:[0.157,1.0],yd:[-8.8,251],pts:ptsJ,line:lineJ,xt:xTicksJ,yt:yTicksJ,title:'Cor=-0.648  (p value=2.6e-94)',xl:'MPC2 methylation',yl:'MPC2 expression'}
];
const H=500;

panels.forEach(p=>{
  const W=p.w,L=p.left,T=p.top,B=T+H,R=L+W;
  const sx=v=>L+(v-p.xd[0])/(p.xd[1]-p.xd[0])*W;
  const sy=v=>B-(v-p.yd[0])/(p.yd[1]-p.yd[0])*H;
  const g=mk('g',{});
  
  
  const colX=L<500?0:750;
  const lt=mk('text',{x:colX+15,y:T-1,'font-size':46,fill:'#000'},g);lt.textContent=p.letter;
  
  
  const tt=mk('text',{x:L+W/2,y:T-12,'font-size':28,'text-anchor':'middle',fill:'#222'},g);tt.textContent=p.title;
  
  
  const cp=mk('clipPath',{id:'clip'+p.id},g);mk('rect',{x:L,y:T,width:W,height:H},cp);
  const dots=mk('g',{'clip-path':'url(#clip'+p.id+')',fill:'#0000ff'},g);
  
  
  p.pts.forEach(d=>{const c=mk('circle',{cx:sx(d[0]).toFixed(1),cy:sy(d[1]).toFixed(1),r:6.3},dots);
    
    });
  const ln=mk('line',{x1:sx(p.line[0]),y1:sy(p.line[1]),x2:sx(p.line[2]),y2:sy(p.line[3]),stroke:'#ff2020','stroke-width':2.2,'clip-path':'url(#clip'+p.id+')'},g);
  
  
  const box=mk('rect',{x:L,y:T,width:W,height:H,fill:'none',stroke:'#333','stroke-width':2},g);
  
  
  const xa=mk('g',{},g);
  
  
  mk('line',{x1:sx(p.xt[0]),x2:sx(p.xt[p.xt.length-1]),y1:B,y2:B,stroke:'#333','stroke-width':2},xa);
  p.xt.forEach(v=>{const x=sx(v);mk('line',{x1:x,x2:x,y1:B,y2:B+9,stroke:'#333','stroke-width':2},xa);
    const tx=Math.min(x,1480);
    const t=mk('text',{x:tx,y:B+39,'font-size':28,'text-anchor':'middle',fill:'#222'},xa);t.textContent=v.toFixed(1);
    
    });
  const ya=mk('g',{},g);
  
  
  mk('line',{x1:L,x2:L,y1:sy(p.yt[0]),y2:sy(p.yt[p.yt.length-1]),stroke:'#333','stroke-width':2},ya);
  p.yt.forEach((v,i)=>{const y=sy(v);mk('line',{x1:L-9,x2:L,y1:y,y2:y,stroke:'#333','stroke-width':2},ya);
    const lab=p.ylab?p.ylab[i]:String(v);
    if(lab){const t=mk('text',{transform:'translate('+(L-19)+','+y+') rotate(-90)','font-size':28,'text-anchor':'middle',fill:'#222'},ya);t.textContent=lab;
      
      }});
  const xt=mk('text',{x:L+W/2,y:B+72,'font-size':29,'text-anchor':'middle',fill:'#222'},g);xt.textContent=p.xl;
  
  
  const yt=mk('text',{transform:'translate('+(L-81)+','+(T+H/2)+') rotate(-90)','font-size':29,'text-anchor':'middle',fill:'#222'},g);yt.textContent=p.yl;
  
  
});
</script>
</body></html>
